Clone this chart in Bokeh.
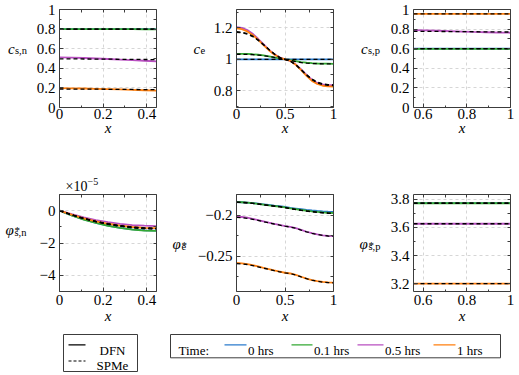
from bokeh.plotting import figure
from bokeh.models import Range1d, FixedTicker, LinearAxis, CustomJSTickFormatter
from bokeh.layouts import column, row
from bokeh.embed import file_html
from bokeh.resources import INLINE
from bokeh.core.properties import value

# ---------------- data ----------------
times = ["0 hrs", "0.1 hrs", "0.5 hrs", "1 hrs"]
colors = ["#2b7bcc", "#33a833", "#b84fc0", "#ff7f0e"]

x_n = [0.0, 0.0556, 0.1111, 0.1667, 0.2222, 0.2778, 0.3333, 0.3889, 0.4444]
x_p = [0.5556, 0.6111, 0.6667, 0.7222, 0.7778, 0.8333, 0.8889, 0.9444, 1.0]
x_all = [0.0, 0.0556, 0.1111, 0.1667, 0.2222, 0.2778, 0.3333, 0.3889, 0.4444, 0.5,
         0.5556, 0.6111, 0.6667, 0.7222, 0.7778, 0.8333, 0.8889, 0.9444, 1.0]

# c_s,n  (negative particle surface concentration)
csn_dfn = [
    [0.800, 0.800, 0.800, 0.800, 0.800, 0.800, 0.800, 0.800, 0.800],
    [0.800, 0.800, 0.800, 0.800, 0.799, 0.799, 0.799, 0.798, 0.798],
    [0.512, 0.509, 0.505, 0.500, 0.495, 0.489, 0.483, 0.477, 0.471],
    [0.198, 0.196, 0.194, 0.191, 0.188, 0.184, 0.180, 0.176, 0.172],
]
csn_spme = [
    [0.800, 0.800, 0.800, 0.800, 0.800, 0.800, 0.800, 0.800, 0.800],
    [0.799, 0.799, 0.799, 0.799, 0.799, 0.799, 0.799, 0.799, 0.799],
    [0.497, 0.496, 0.495, 0.494, 0.493, 0.492, 0.491, 0.490, 0.489],
    [0.189, 0.188, 0.188, 0.187, 0.186, 0.185, 0.184, 0.183, 0.182],
]

# c_e  (electrolyte concentration)
ce_dfn = [
    [1.0, 1.0, 1.0, 1.0, 1.0, 1.0, 1.0, 1.0, 1.0, 1.0, 1.0, 1.0, 1.0, 1.0, 1.0, 1.0, 1.0, 1.0, 1.0],
    [1.035, 1.035, 1.034, 1.032, 1.029, 1.025, 1.019, 1.012, 1.006, 1.000, 0.994, 0.988, 0.982, 0.978, 0.975, 0.973, 0.972, 0.972, 0.971],
    [1.206, 1.201, 1.187, 1.163, 1.131, 1.096, 1.062, 1.033, 1.012, 1.000, 0.989, 0.967, 0.935, 0.900, 0.869, 0.849, 0.839, 0.835, 0.834],
    [1.197, 1.192, 1.178, 1.155, 1.125, 1.091, 1.058, 1.031, 1.011, 1.000, 0.989, 0.965, 0.931, 0.894, 0.862, 0.842, 0.831, 0.827, 0.826],
]
ce_spme = [
    [1.0, 1.0, 1.0, 1.0, 1.0, 1.0, 1.0, 1.0, 1.0, 1.0, 1.0, 1.0, 1.0, 1.0, 1.0, 1.0, 1.0, 1.0, 1.0],
    [1.032, 1.032, 1.031, 1.030, 1.027, 1.023, 1.018, 1.012, 1.006, 1.000, 0.993, 0.985, 0.979, 0.975, 0.973, 0.972, 0.971, 0.971, 0.971],
    [1.176, 1.173, 1.164, 1.148, 1.124, 1.095, 1.064, 1.035, 1.012, 1.000, 0.988, 0.965, 0.934, 0.902, 0.874, 0.854, 0.843, 0.838, 0.837],
    [1.172, 1.169, 1.160, 1.145, 1.122, 1.093, 1.062, 1.034, 1.011, 1.000, 0.988, 0.964, 0.932, 0.898, 0.869, 0.849, 0.838, 0.833, 0.832],
]

# c_s,p  (positive particle surface concentration)
csp_dfn = [
    [0.600, 0.600, 0.600, 0.600, 0.600, 0.600, 0.600, 0.600, 0.600],
    [0.599, 0.599, 0.599, 0.599, 0.599, 0.599, 0.599, 0.599, 0.599],
    [0.790, 0.787, 0.783, 0.779, 0.775, 0.771, 0.768, 0.765, 0.763],
    [0.955, 0.955, 0.955, 0.955, 0.955, 0.955, 0.955, 0.955, 0.955],
]
csp_spme = [
    [0.600, 0.600, 0.600, 0.600, 0.600, 0.600, 0.600, 0.600, 0.600],
    [0.600, 0.600, 0.600, 0.600, 0.600, 0.600, 0.600, 0.600, 0.600],
    [0.778, 0.777, 0.776, 0.775, 0.774, 0.773, 0.772, 0.771, 0.770],
    [0.955, 0.955, 0.955, 0.955, 0.955, 0.955, 0.955, 0.955, 0.955],
]

# phi*_s,n  (in units of 1e-5)
phisn_dfn = [
    [0.0, -0.29, -0.54, -0.75, -0.93, -1.06, -1.16, -1.22, -1.24],
    [0.0, -0.29, -0.55, -0.76, -0.94, -1.07, -1.17, -1.23, -1.25],
    [0.0, -0.22, -0.42, -0.58, -0.71, -0.82, -0.89, -0.93, -0.95],
    [0.0, -0.25, -0.47, -0.66, -0.81, -0.93, -1.01, -1.06, -1.08],
]
phisn_spme = [
    [0.0, -0.26, -0.49, -0.68, -0.84, -0.96, -1.05, -1.11, -1.13],
    [0.0, -0.26, -0.49, -0.68, -0.84, -0.96, -1.05, -1.11, -1.13],
    [0.0, -0.25, -0.47, -0.66, -0.81, -0.93, -1.01, -1.06, -1.09],
    [0.0, -0.25, -0.48, -0.67, -0.82, -0.94, -1.03, -1.08, -1.10],
]

# phi*_e  (electrolyte potential)
phie_dfn = [
    [-0.1838, -0.1840, -0.1844, -0.1850, -0.1857, -0.1865, -0.1873, -0.1881, -0.1888, -0.1898, -0.1910, -0.1918, -0.1926, -0.1934, -0.1941, -0.1947, -0.1952, -0.1956, -0.1958],
    [-0.1838, -0.1840, -0.1845, -0.1852, -0.1860, -0.1869, -0.1878, -0.1886, -0.1893, -0.1903, -0.1915, -0.1925, -0.1935, -0.1944, -0.1952, -0.1959, -0.1965, -0.1969, -0.1972],
    [-0.2018, -0.2021, -0.2030, -0.2043, -0.2058, -0.2074, -0.2090, -0.2105, -0.2119, -0.2133, -0.2142, -0.2158, -0.2180, -0.2202, -0.2220, -0.2235, -0.2246, -0.2253, -0.2256],
    [-0.2585, -0.2589, -0.2598, -0.2612, -0.2628, -0.2645, -0.2661, -0.2677, -0.2691, -0.2705, -0.2714, -0.2731, -0.2754, -0.2776, -0.2794, -0.2808, -0.2818, -0.2824, -0.2826],
]
phie_spme = [
    [-0.1840, -0.1842, -0.1846, -0.1853, -0.1861, -0.1870, -0.1879, -0.1887, -0.1894, -0.1905, -0.1918, -0.1928, -0.1938, -0.1947, -0.1955, -0.1962, -0.1968, -0.1972, -0.1975],
    [-0.1840, -0.1842, -0.1847, -0.1854, -0.1862, -0.1871, -0.1880, -0.1888, -0.1895, -0.1906, -0.1919, -0.1930, -0.1940, -0.1949, -0.1957, -0.1964, -0.1970, -0.1975, -0.1978],
    [-0.2026, -0.2029, -0.2037, -0.2049, -0.2063, -0.2078, -0.2093, -0.2107, -0.2120, -0.2134, -0.2144, -0.2160, -0.2182, -0.2203, -0.2221, -0.2236, -0.2247, -0.2254, -0.2258],
    [-0.2592, -0.2596, -0.2604, -0.2617, -0.2632, -0.2648, -0.2664, -0.2679, -0.2693, -0.2707, -0.2716, -0.2733, -0.2756, -0.2778, -0.2796, -0.2810, -0.2820, -0.2826, -0.2828],
]

# phi*_s,p  (positive solid potential)
phisp_dfn = [
    [3.772, 3.772, 3.772, 3.772, 3.772, 3.772, 3.772, 3.772, 3.772],
    [3.771, 3.771, 3.771, 3.771, 3.771, 3.771, 3.771, 3.771, 3.771],
    [3.626, 3.626, 3.626, 3.626, 3.626, 3.626, 3.626, 3.626, 3.626],
    [3.202, 3.202, 3.202, 3.202, 3.202, 3.202, 3.202, 3.202, 3.202],
]
phisp_spme = [
    [3.772, 3.772, 3.772, 3.772, 3.772, 3.772, 3.772, 3.772, 3.772],
    [3.771, 3.771, 3.771, 3.771, 3.771, 3.771, 3.771, 3.771, 3.771],
    [3.626, 3.626, 3.626, 3.626, 3.626, 3.626, 3.626, 3.626, 3.626],
    [3.202, 3.202, 3.202, 3.202, 3.202, 3.202, 3.202, 3.202, 3.202],
]

# ---------------- styling ----------------
FONT = "Liberation Serif"
AX = "#3c3c3c"
GRID = "#d6d6d6"
FMT = "return String(tick).replace('-', '\u2212');"


def panel(xr, yr, xt, xmt, yt, ymt, w, h, bl, br, bt, bb, tick_sd, lab_sd):
    p = figure(width=w, height=h, x_range=Range1d(*xr), y_range=Range1d(*yr),
               output_backend="svg", toolbar_location=None,
               min_border_left=bl, min_border_right=br,
               min_border_top=bt, min_border_bottom=bb,
               background_fill_color="white", border_fill_color="white")
    p.outline_line_color = None
    # mirrored tick marks (no labels) on top and right
    top = LinearAxis(ticker=FixedTicker(ticks=[], minor_ticks=xt + xmt))
    right = LinearAxis(ticker=FixedTicker(ticks=[], minor_ticks=yt + ymt))
    p.add_layout(top, "above")
    p.add_layout(right, "right")
    bottom = p.below[0]
    left = p.left[0]
    bottom.ticker = FixedTicker(ticks=xt, minor_ticks=xmt)
    left.ticker = FixedTicker(ticks=yt, minor_ticks=ymt)
    for ax in (bottom, left, top, right):
        ax.major_tick_in = 4
        ax.major_tick_out = 0
        ax.minor_tick_in = 2
        ax.minor_tick_out = 0
        ax.axis_line_color = AX
        ax.major_tick_line_color = AX
        ax.minor_tick_line_color = AX
    for ax in (top, right):
        ax.minor_tick_in = 3
        ax.major_label_standoff = 0
    for ax in (bottom, left):
        ax.major_label_text_font = FONT
        ax.major_label_text_font_size = "15px"
        ax.major_label_text_color = "black"
        ax.formatter = CustomJSTickFormatter(code=FMT)
    left.major_label_standoff = 4
    bottom.major_label_standoff = tick_sd
    bottom.axis_label = "x"
    bottom.axis_label_text_font = FONT
    bottom.axis_label_text_font_size = "15px"
    bottom.axis_label_text_font_style = "italic"
    bottom.axis_label_text_color = "black"
    bottom.axis_label_standoff = lab_sd
    p.grid.grid_line_color = GRID
    p.grid.grid_line_dash = "3 3"
    p.grid.grid_line_width = 1
    return p


def draw(p, xs, dfn, spme):
    for ys, c in zip(dfn, colors):
        p.line(xs, ys, line_color=c, line_width=1.8)
    for ys in spme:
        p.line(xs, ys, line_color="black", line_width=1.3, line_dash="4 3")


def text_fig(w, h):
    f = figure(width=w, height=h, x_range=Range1d(0, w), y_range=Range1d(h, 0),
               x_axis_type=None, y_axis_type=None, output_backend="svg",
               toolbar_location=None, min_border=0,
               background_fill_color="white", border_fill_color="white")
    f.outline_line_color = None
    return f


def txt(f, x, y, s, size="15px", italic=False, align="left"):
    f.text(x=[x], y=[y], text=[s], text_font=value(FONT), text_font_size=value(size),
           text_font_style=value("italic" if italic else "normal"),
           text_align=value(align), text_baseline=value("alphabetic"),
           text_color="black")


# heights
H1 = 152            # row 1: 9 top + 98 frame + 45 bottom
MID = 42            # strip above phi_s,n (exponent)
H2L = 137           # phi_s,n panel: 0 top + 97 frame + 40 bottom
H2 = MID + H2L      # other row-2 panels
LEGH = 374 - H1 - H2

# row 1 panels
p1 = panel((0, 0.4444), (0, 1), [0, 0.2, 0.4], [0.1, 0.3],
           [0, 0.2, 0.4, 0.6, 0.8, 1], [0.1, 0.3, 0.5, 0.7, 0.9],
           155, H1, 28, 30, 9, 45, 1, -2)
p2 = panel((0, 1), (0.692, 1.318), [0, 0.5, 1], [0.25, 0.75],
           [0.8, 1, 1.2], [0.7, 0.9, 1.1, 1.3],
           148, H1, 28, 23, 9, 45, 1, -2)
p3 = panel((0.5556, 1), (0, 1), [0.6, 0.8, 1], [0.7, 0.9],
           [0, 0.2, 0.4, 0.6, 0.8, 1], [0.1, 0.3, 0.5, 0.7, 0.9],
           134, H1, 29, 8, 9, 45, 1, -2)
# row 2 panels
p4 = panel((0, 0.4444), (-5, 1), [0, 0.2, 0.4], [0.1, 0.3],
           [-4, -2, 0], [-5, -3, -1, 1],
           135, H2L, 28, 10, 0, 40, 3, 0)
p5 = panel((0, 1), (-0.2935, -0.1745), [0, 0.5, 1], [0.25, 0.75],
           [-0.25, -0.2], [-0.275, -0.225, -0.175],
           164, H2, 44, 23, MID, 40, 3, 0)
p6 = panel((0.5556, 1), (3.146, 3.833), [0.6, 0.8, 1], [0.7, 0.9],
           [3.2, 3.4, 3.6, 3.8], [3.3, 3.5, 3.7],
           134, H2, 29, 8, MID, 40, 3, 0)

draw(p1, x_n, csn_dfn, csn_spme)
draw(p2, x_all, ce_dfn, ce_spme)
draw(p3, x_p, csp_dfn, csp_spme)
draw(p4, x_n, phisn_dfn, phisn_spme)
draw(p5, x_all, phie_dfn, phie_spme)
draw(p6, x_p, phisp_dfn, phisp_spme)

# y-axis label strips
yl1 = text_fig(31, H1)
txt(yl1, 7.5, 61, "c", italic=True)
txt(yl1, 14.5, 64, "s,n", size="10.5px")
yl2 = text_fig(22, H1)
txt(yl2, 7, 61, "c", italic=True)
txt(yl2, 14, 64, "e", size="10.5px")
yl3 = text_fig(28, H1)
txt(yl3, 4.5, 61, "c", italic=True)
txt(yl3, 11.5, 64, "s,p", size="10.5px")

yl4 = text_fig(31, H2L)
txt(yl4, 5, 50, "\u03c6", italic=True)
txt(yl4, 14, 50.5, "*", size="11px")
txt(yl4, 14, 54, "s,n", size="10.5px")
yl5 = text_fig(26, H2)
txt(yl5, 6, MID + 50, "\u03c6", italic=True)
txt(yl5, 15, MID + 50.5, "*", size="11px")
txt(yl5, 15, MID + 54, "e", size="10.5px")
yl6 = text_fig(28, H2)
txt(yl6, 3, MID + 50, "\u03c6", italic=True)
txt(yl6, 12, MID + 50.5, "*", size="11px")
txt(yl6, 12, MID + 54, "s,p", size="10.5px")

# strip above phi_s,n: axis exponent
mid1 = text_fig(166, MID)
txt(mid1, 65, 33.5, "\u00d710", size="14px")
txt(mid1, 87, 29, "\u22125", size="10px")

# ---------------- legends ----------------
leg = text_fig(518, LEGH)
LFONT = value(FONT)
LSIZE = value("13px")
# box 1: model line styles
leg.quad(left=[63], right=[137], top=[3], bottom=[40], fill_color=None,
         line_color=AX, line_width=1)
leg.line([68, 85], [13.3, 13.3], line_color="black", line_width=1.2)
leg.line([68, 85], [29.5, 29.5], line_color="black", line_width=1.2, line_dash="3 2")
leg.text(x=[112, 112], y=[19, 34], text=["DFN", "SPMe"], text_align=value("center"),
         text_baseline=value("alphabetic"), text_font=LFONT, text_font_size=LSIZE,
         text_color="black")
# box 2: times
leg.quad(left=[170], right=[500], top=[3], bottom=[26.3], fill_color=None,
         line_color=AX, line_width=1)
txt(leg, 178, 19, "Time:", size="13px")
line_x0 = [224, 291, 357, 433]
line_x1 = [246, 312, 383, 455]
for t, c, a, b in zip(times, colors, line_x0, line_x1):
    leg.line([a, b], [13.3, 13.3], line_color=c, line_width=1.2)
    txt(leg, b + 1.5, 19, t, size="13px")

row1 = row(yl1, p1, yl2, p2, yl3, p3)
row2 = row(column(mid1, row(yl4, p4)), yl5, p5, yl6, p6)
layout = column(row1, row2, leg)
open("out.html", "w").write(file_html(layout, INLINE))
